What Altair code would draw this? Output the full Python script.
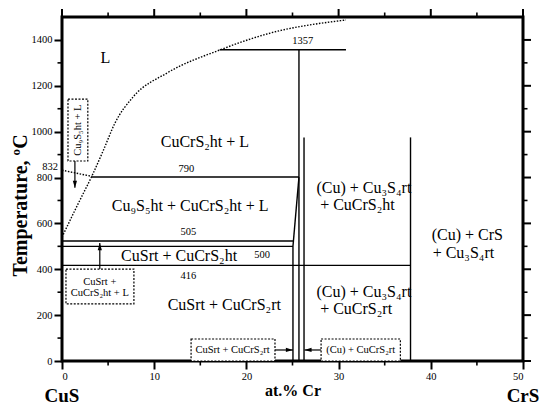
import altair as alt
import pandas as pd

FONT = "Liberation Serif, Times New Roman, DejaVu Serif, serif"

# ---- axis ticks ----
x_major = [0, 10, 20, 30, 40, 50]
x_minor = [5, 15, 25, 35, 45]
y_major = [0, 200, 400, 600, 800, 1000, 1200, 1400]
y_minor = [100, 300, 500, 700, 900, 1100, 1300]

# ---- liquidus (dotted curve) ----
liq_x = [0, 1.05, 1.95, 3.25, 4.5, 5.75, 7.7, 11.4, 17.1, 22.6, 30.8]
liq_t = [540, 628, 702, 807, 920, 1038, 1151, 1256, 1356, 1430, 1487]

# ---- dotted metatectic segment ----
dot_x1 = [0]
dot_x2 = [3.25]
dot_t1 = [832]
dot_t2 = [805]

# ---- solid phase boundaries ----
seg_x1 = [17.1, 25.7, 3.25, 0, 0, 0, 25.05, 25.05, 26.25, 37.8]
seg_x2 = [30.8, 25.7, 25.7, 25.05, 25.05, 37.8, 25.05, 25.7, 26.25, 37.8]
seg_t1 = [1357, 0, 802, 523, 500, 417, 0, 500, 0, 0]
seg_t2 = [1357, 1357, 802, 523, 500, 417, 500, 802, 975, 975]

# ---- phase field labels ----
big_text = ["L", "CuCrS₂ht + L", "Cu₉S₅ht + CuCrS₂ht + L", "CuSrt + CuCrS₂ht",
            "CuSrt + CuCrS₂rt", "(Cu) + Cu₃S₄rt", "+ CuCrS₂ht", "(Cu) + Cu₃S₄rt",
            "+ CuCrS₂rt", "(Cu) + CrS", "+ Cu₃S₄rt"]
big_x = [4.7, 15.5, 13.9, 12.7, 17.6, 27.6, 28.0, 27.6, 28.0, 40.1, 40.2]
big_t = [1321, 955, 676, 458, 244, 754, 680, 301, 227, 549, 471]
big_align = ["center", "center", "center", "center", "center",
             "left", "left", "left", "left", "left", "left"]

# ---- temperature labels ----
num_text = ["1357", "790", "505", "500", "416", "832"]
num_x = [26.1, 13.5, 13.7, 21.7, 13.7, -1.3]
num_t = [1396, 837, 562, 462, 370, 846]

# ---- dotted boxes ----
box_x1 = [0.65, 0.43, 14.0, 28.1]
box_x2 = [2.8, 7.8, 23.1, 36.7]
box_t1 = [872, 249, 0, 0]
box_t2 = [1142, 401, 96, 96]

box_text = ["CuSrt +", "CuCrS₂ht + L", "CuSrt + CuCrS₂rt", "(Cu) + CuCrS₂rt"]
box_tx = [4.1, 4.1, 18.5, 32.4]
box_tt = [345, 297, 48, 48]
rot_text = ["Cu₉S₅ht + L"]
rot_x = [1.72]
rot_t = [1007]

# ---- arrows ----
arr_x1 = [1.4, 4.1, 23.1, 28.1]
arr_x2 = [1.4, 4.1, 25.05, 26.3]
arr_t1 = [872, 401, 48, 48]
arr_t2 = [755, 514, 48, 48]
arr_dir = ["down", "up", "right", "left"]

xs = alt.Scale(domain=[0, 50], nice=False, zero=False)
ys = alt.Scale(domain=[0, 1500], nice=False, zero=False)

W, H = 461, 344

x_axis = alt.Axis(values=x_major, format="d", tickSize=8, tickWidth=2, tickColor="black",
                  domain=False, grid=False, labelFont=FONT, labelFontSize=10.5,
                  labelColor="black", labelPadding=2, title="at.% Cr",
                  titleFont=FONT, titleFontSize=16, titleFontWeight="bold",
                  titleColor="black", titleX=230.5, titleY=29,
                  titleBaseline="middle", titleAlign="center")
y_axis = alt.Axis(values=y_major, format="d", tickSize=8, tickWidth=2, tickColor="black",
                  domain=False, grid=False, labelFont=FONT, labelFontSize=10.5,
                  labelColor="black", labelPadding=2, title="Temperature, ºC",
                  titleFont=FONT, titleFontSize=20, titleFontWeight="bold",
                  titleColor="black", titleX=-42, titleY=188,
                  titleBaseline="middle", titleAlign="center")


def X(f):
    return alt.X(f, scale=xs, axis=x_axis)


def Y(f):
    return alt.Y(f, scale=ys, axis=y_axis)


seg_df = pd.DataFrame({"x": seg_x1, "x2": seg_x2, "t": seg_t1, "t2": seg_t2})
segments = alt.Chart(seg_df).mark_rule(color="black", strokeWidth=1.4).encode(
    x=X("x:Q"), x2="x2:Q", y=Y("t:Q"), y2="t2:Q")

liq_df = pd.DataFrame({"x": liq_x, "t": liq_t})
liquidus = alt.Chart(liq_df).mark_line(color="black", strokeWidth=1.4,
                                       strokeDash=[1.5, 1.5], interpolate="monotone").encode(
    x=X("x:Q"), y=Y("t:Q"))

dot_df = pd.DataFrame({"x": dot_x1, "x2": dot_x2, "t": dot_t1, "t2": dot_t2})
dotseg = alt.Chart(dot_df).mark_rule(color="black", strokeWidth=1.4, strokeDash=[1.5, 1.5]).encode(
    x=X("x:Q"), x2="x2:Q", y=Y("t:Q"), y2="t2:Q")

box_df = pd.DataFrame({"x": box_x1, "x2": box_x2, "t": box_t1, "t2": box_t2})
boxes = alt.Chart(box_df).mark_rect(fill="white", stroke="black", strokeWidth=1.2,
                                    strokeDash=[2, 1.5]).encode(
    x=X("x:Q"), x2="x2:Q", y=Y("t:Q"), y2="t2:Q")

arr_df = pd.DataFrame({"x": arr_x1, "x2": arr_x2, "t": arr_t1, "t2": arr_t2, "dir": arr_dir})
arr_shafts = alt.Chart(arr_df).mark_rule(color="black", strokeWidth=1.2).encode(
    x=X("x:Q"), x2="x2:Q", y=Y("t:Q"), y2="t2:Q")
arr_heads = alt.Chart(arr_df).mark_point(filled=True, color="black", opacity=1,
                                         size=200, strokeWidth=0).encode(
    x=X("x2:Q"), y=Y("t2:Q"),
    shape=alt.Shape("dir:N", legend=None, scale=alt.Scale(
        domain=["down", "up", "right", "left"],
        range=["M-0.3,-1L0.3,-1L0,0Z", "M-0.3,1L0.3,1L0,0Z",
               "M-1,-0.3L-1,0.3L0,0Z", "M1,-0.3L1,0.3L0,0Z"])))

big_df = pd.DataFrame({"x": big_x, "t": big_t, "label": big_text, "al": big_align})
big_c = alt.Chart(big_df[big_df.al == "center"]).mark_text(
    font=FONT, fontSize=16, color="black", align="center", baseline="middle").encode(
    x=X("x:Q"), y=Y("t:Q"), text="label:N")
big_l = alt.Chart(big_df[big_df.al == "left"]).mark_text(
    font=FONT, fontSize=16, color="black", align="left", baseline="middle").encode(
    x=X("x:Q"), y=Y("t:Q"), text="label:N")

num_df = pd.DataFrame({"x": num_x, "t": num_t, "label": num_text})
nums = alt.Chart(num_df).mark_text(font=FONT, fontSize=10.5, color="black",
                                   align="center", baseline="middle").encode(
    x=X("x:Q"), y=Y("t:Q"), text="label:N")

bt_df = pd.DataFrame({"x": box_tx, "t": box_tt, "label": box_text})
btexts = alt.Chart(bt_df).mark_text(font=FONT, fontSize=10.5, color="black",
                                    align="center", baseline="middle").encode(
    x=X("x:Q"), y=Y("t:Q"), text="label:N")

rot_df = pd.DataFrame({"x": rot_x, "t": rot_t, "label": rot_text})
rtext = alt.Chart(rot_df).mark_text(font=FONT, fontSize=10.5, color="black", angle=270,
                                    align="center", baseline="middle").encode(
    x=X("x:Q"), y=Y("t:Q"), text="label:N")

# ---- extra ticks (minor + top/right) ----
xmin_df = pd.DataFrame({"x": x_minor})
xmaj_df = pd.DataFrame({"x": x_major})
ymin_df = pd.DataFrame({"t": y_minor})
ymaj_df = pd.DataFrame({"t": y_major})

bot_minor = alt.Chart(xmin_df).mark_rule(color="black", strokeWidth=1.6).encode(
    x=X("x:Q"), y=alt.value(H), y2=alt.value(H + 4.5))
top_minor = alt.Chart(xmin_df).mark_rule(color="black", strokeWidth=1.6).encode(
    x=X("x:Q"), y=alt.value(0), y2=alt.value(-4.5))
top_major = alt.Chart(xmaj_df).mark_rule(color="black", strokeWidth=2).encode(
    x=X("x:Q"), y=alt.value(0), y2=alt.value(-8))
left_minor = alt.Chart(ymin_df).mark_rule(color="black", strokeWidth=1.6).encode(
    y=Y("t:Q"), x=alt.value(0), x2=alt.value(-4.5))
right_minor = alt.Chart(ymin_df).mark_rule(color="black", strokeWidth=1.6).encode(
    y=Y("t:Q"), x=alt.value(W), x2=alt.value(W + 4.5))
right_major = alt.Chart(ymaj_df).mark_rule(color="black", strokeWidth=2).encode(
    y=Y("t:Q"), x=alt.value(W), x2=alt.value(W + 8))

# ---- end-member labels ----
end_df = pd.DataFrame({"x": [0, 50], "label": ["CuS", "CrS"]})
ends = alt.Chart(end_df).mark_text(font=FONT, fontSize=19, fontWeight="bold", color="black",
                                   align="center", baseline="middle").encode(
    x=X("x:Q"), y=alt.value(379), text="label:N")

chart = alt.layer(
    segments, liquidus, dotseg, boxes, arr_shafts, arr_heads,
    big_c, big_l, nums, btexts, rtext,
    bot_minor, top_minor, top_major, left_minor, right_minor, right_major, ends
).properties(
    width=W, height=H,
    autosize=alt.AutoSizeParams(type="none"),
    padding={"left": 54, "top": 9, "right": 19, "bottom": 44},
    background="white",
).configure_view(stroke="black", strokeWidth=3)

chart.save("out.html", embed_options={"renderer": "svg", "actions": False})
